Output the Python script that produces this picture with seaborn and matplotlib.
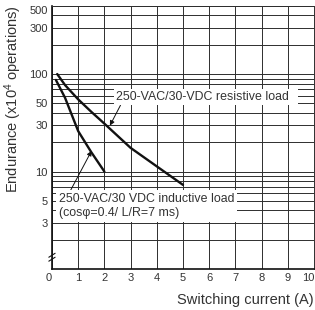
import pandas as pd
import seaborn as sns
import numpy as np
import matplotlib.pyplot as plt
from matplotlib.ticker import FixedLocator, NullFormatter

# values
res_current = [0.2, 0.5, 1, 1.5, 2, 3, 4, 5]
res_endurance = [100, 77, 55, 41, 31, 17.5, 11.3, 7.3]
ind_current = [0.15, 0.5, 1, 1.5, 2]
ind_endurance = [87, 57, 26, 15.8, 10]

x_ticks = list(range(0, 11))
y_ticks = [3, 5, 10, 30, 50, 100, 300, 500]
y_ticklabels = ['3', '5', '10', '30', '50', '100', '300', '500']

df = pd.concat([
    pd.DataFrame({'current': res_current, 'endurance': res_endurance, 'load': 'resistive'}),
    pd.DataFrame({'current': ind_current, 'endurance': ind_endurance, 'load': 'inductive'}),
])

sns.set_style('white')
plt.rcParams['font.family'] = ['Liberation Sans', 'DejaVu Sans']
plt.rcParams['mathtext.fontset'] = 'custom'
plt.rcParams['mathtext.rm'] = 'Liberation Sans'
plt.rcParams['mathtext.it'] = 'Liberation Sans'

fig = plt.figure(figsize=(3.15, 3.10), dpi=100)
ax = fig.add_axes([0.165, 0.132, 0.832, 0.849])

sns.lineplot(data=df, x='current', y='endurance', units='load', estimator=None,
             color='#111111', linewidth=1.7, ax=ax, legend=False, sort=False)

ax.set_yscale('log')
ax.set_xlim(0, 10)
ax.set_ylim(1, 500)

# grid: every integer amp, and 1..9 steps of each decade
minor = [v * 10 ** d for d in range(0, 3) for v in range(2, 10)]
minor = [m for m in minor if m < 500 and m not in y_ticks]
ax.yaxis.set_minor_locator(FixedLocator(minor))
ax.yaxis.set_minor_formatter(NullFormatter())
ax.set_yticks(y_ticks)
ax.set_yticklabels(y_ticklabels)
ax.set_xticks(x_ticks)
ax.grid(True, which='both', color='#2e2e2e', linewidth=0.7)
ax.tick_params(which='both', length=0, labelsize=8, colors='#333333', pad=3)
ax.get_xticklabels()[0].set_ha('right')
ax.get_xticklabels()[-1].set_ha('right')
ax.get_yticklabels()[-1].set_va('top')

for s in ['top', 'right']:
    ax.spines[s].set_color('#2e2e2e')
    ax.spines[s].set_linewidth(0.7)
for s in ['left', 'bottom']:
    ax.spines[s].set_color('#111111')
    ax.spines[s].set_linewidth(1.2)

# axis break on the y axis
ax.plot([-0.012, 0.012], [0.045, 0.060], transform=ax.transAxes, color='#111111',
        linewidth=0.8, clip_on=False)
ax.plot([-0.012, 0.012], [0.030, 0.045], transform=ax.transAxes, color='#111111',
        linewidth=0.8, clip_on=False)

ax.set_ylabel('Endurance (x10$^4$ operations)', fontsize=10.5, color='#333333')
ax.yaxis.set_label_coords(-0.107, 0.646)
ax.set_xlabel('Switching current (A)', fontsize=10.5, color='#333333', loc='right', labelpad=7)

ax.annotate('250-VAC/30-VDC resistive load  ', xy=(2.21, 29.6), xytext=(2.45, 58),
            fontsize=8.9, color='#333333', va='center', ha='left',
            bbox=dict(facecolor='white', edgecolor='none', pad=1.5),
            arrowprops=dict(arrowstyle='-|>', color='#111111', lw=0.7,
                            mutation_scale=7, shrinkA=0, shrinkB=0, relpos=(0.03, 0)))
ax.annotate('250-VAC/30 VDC inductive load\n(cos\u03c6=0.4/ L/R=7 ms)', xy=(1.51, 16.3),
            xytext=(0.25, 4.4), fontsize=8.9, color='#333333', va='center', ha='left',
            linespacing=1.25, bbox=dict(facecolor='white', edgecolor='none', pad=2),
            arrowprops=dict(arrowstyle='-|>', color='#111111', lw=0.7,
                            mutation_scale=7, shrinkA=0, shrinkB=0, relpos=(0.06, 1)))

fig.savefig('out.png', dpi=100)
